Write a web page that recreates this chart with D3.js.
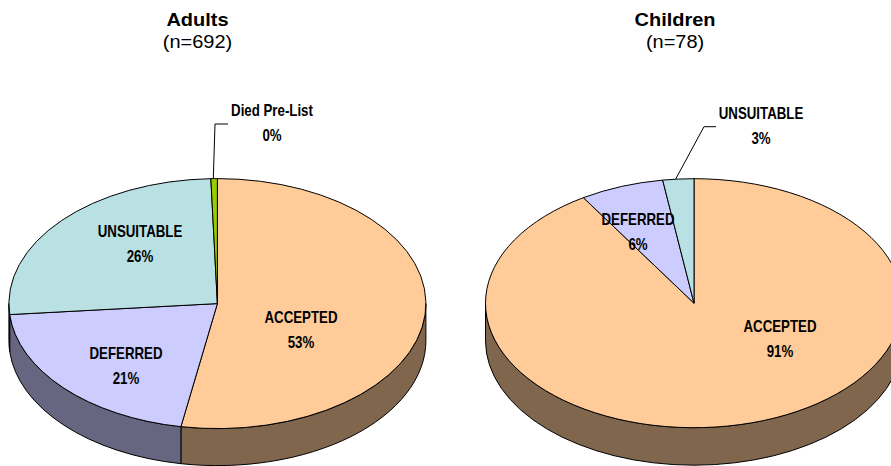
<!DOCTYPE html>
<html><head><meta charset="utf-8">
<script src="https://cdn.jsdelivr.net/npm/d3@7/dist/d3.min.js"></script>
<style>html,body{margin:0;padding:0;background:#fff;overflow:hidden}svg{display:block}</style>
</head><body><svg id="c" width="891" height="466"></svg>
<script>
// Data (slice sizes as drawn; printed labels as printed)
const adultCategories = ["ACCEPTED","DEFERRED","UNSUITABLE","Died Pre-List"];
const adultValues = [52.8,20.8,25.9,0.5];
const adultLabels = ["53%","21%","26%","0%"];
const childCategories = ["ACCEPTED","DEFERRED","UNSUITABLE"];
const childValues = [91.1,6.5,2.4];
const childLabels = ["91%","6%","3%"];
const titles = ["Adults","Children"];
const subtitles = ["(n=692)","(n=78)"];

// Styles / layout
const topColors = {"ACCEPTED":"#FFCC99","DEFERRED":"#CCCCFF","UNSUITABLE":"#B9E0E3","Died Pre-List":"#99CC00"};
const wallColors = {"ACCEPTED":"#80664D","DEFERRED":"#666680","UNSUITABLE":"#5D7072","Died Pre-List":"#4D6600"};
const layouts = [
 {cx:217.4,cy:303.6,rx:208.5,ry:125,depth:37,titleX:197.5,
  labels:[[301,317],[126,353],[140,231],[272,110]],
  leader:[[213.3,178.5],[215,124],[228,124]]},
 {cx:694,cy:303.2,rx:208.5,ry:124.5,depth:37.5,titleX:675,
  labels:[[780,326],[638,219.5],[761,113]],
  leader:[[675.7,179],[704,126.7],[716,126.7]]}
];
const svg = d3.select("#c");
const sans = "'Liberation Sans',Arial,sans-serif";
const pie = d3.pie().sort(null).value(d=>d.v);

function drawPie(cats, vals, labs, L, i){
  const g = svg.append("g");
  const data = pie(cats.map((c,j)=>({c,v:vals[j],l:labs[j]})));
  const px = a => L.cx + L.rx*Math.sin(a);
  const py = a => L.cy - L.ry*Math.cos(a);

  // side walls: only the front half (angles between PI/2 and 3PI/2) is visible
  const wall = d => {
    const a0 = Math.max(d.startAngle,Math.PI/2), a1 = Math.min(d.endAngle,3*Math.PI/2);
    if(a1<=a0) return null;
    const big = (a1-a0)>Math.PI?1:0;
    return `M${px(a0)},${py(a0)}A${L.rx},${L.ry} 0 ${big} 1 ${px(a1)},${py(a1)}`+
           `L${px(a1)},${py(a1)+L.depth}A${L.rx},${L.ry} 0 ${big} 0 ${px(a0)},${py(a0)+L.depth}Z`;
  };
  g.selectAll("path.wall").data(data.filter(d=>wall(d)!==null)).join("path").attr("class","wall")
    .attr("d",d=>wall(d)).attr("fill",d=>wallColors[d.data.c])
    .attr("stroke","#000").attr("stroke-width",1).attr("stroke-linejoin","round");

  // top face: d3.arc squashed into the ellipse
  const arc = d3.arc().innerRadius(0).outerRadius(L.rx);
  g.append("g").attr("transform",`translate(${L.cx},${L.cy}) scale(1,${L.ry/L.rx})`)
    .selectAll("path").data(data).join("path")
    .attr("d",arc).attr("fill",d=>topColors[d.data.c])
    .attr("stroke","#000").attr("stroke-width",1).attr("vector-effect","non-scaling-stroke")
    .attr("stroke-linejoin","round");

  // leader
  g.append("path").attr("d",d3.line()(L.leader)).attr("fill","none")
    .attr("stroke","#000").attr("stroke-width",1);

  // labels: horizontally condensed bold sans, as in the narrow face of the original
  const t = g.selectAll("g.lab").data(data).join("g").attr("class","lab")
    .attr("transform",(d,j)=>`translate(${L.labels[j][0]},${L.labels[j][1]}) scale(0.83,1)`)
    .attr("font-family",sans).attr("font-weight","bold").attr("font-size",16)
    .attr("text-anchor","middle").attr("fill","#000");
  t.append("text").attr("y",5.5).text(d=>d.data.c);
  t.append("text").attr("y",31).text(d=>d.data.l);

  // title
  svg.append("text").attr("transform",`translate(${L.titleX},25.5) scale(1.11,1)`).attr("text-anchor","middle")
    .attr("font-family",sans).attr("font-weight","bold")
    .attr("font-size",18).attr("fill","#000").text(titles[i]);
  svg.append("text").attr("transform",`translate(${L.titleX},48) scale(1.11,1)`).attr("text-anchor","middle")
    .attr("font-family",sans)
    .attr("font-size",18).attr("fill","#000").text(subtitles[i]);
}
drawPie(adultCategories,adultValues,adultLabels,layouts[0],0);
drawPie(childCategories,childValues,childLabels,layouts[1],1);
</script></body></html>
